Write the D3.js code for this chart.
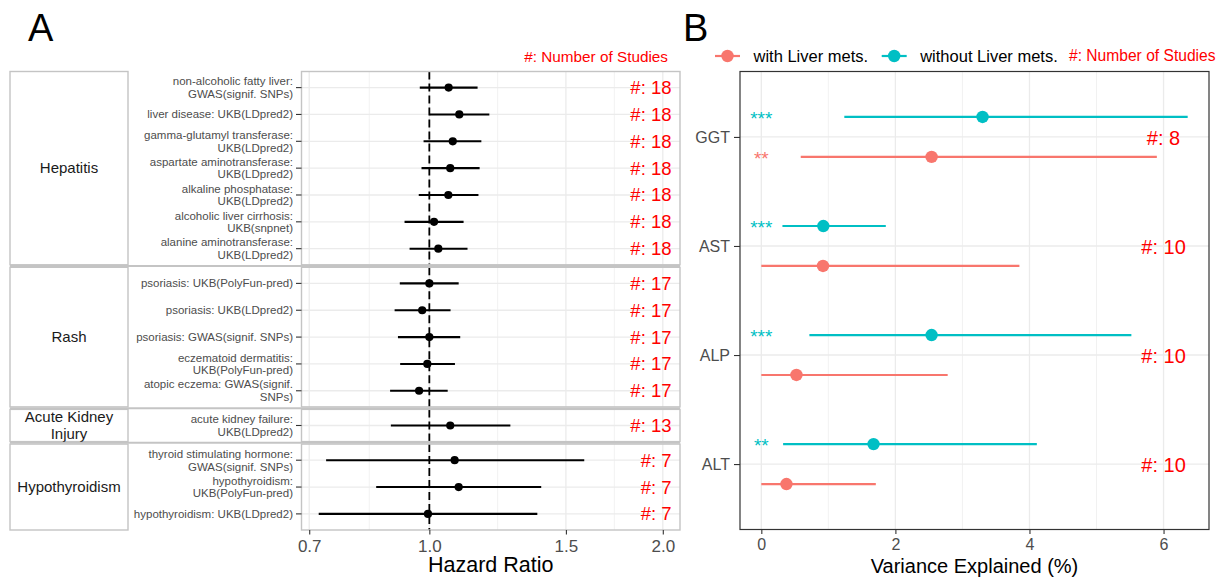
<!DOCTYPE html>
<html>
<head>
<meta charset="utf-8">
<script src="https://cdn.jsdelivr.net/npm/d3@7"></script>
<style>
  body { margin: 0; background: #fff; }
  svg { display: block; font-family: "Liberation Sans", Arial, sans-serif; }
</style>
</head>
<body>
<svg id="chart" width="1217" height="577"></svg>
<script>
// ---- Panel A data (hazard ratios) ----------------------------------
const hrGroups = ["Hepatitis", "Rash", "Acute Kidney\nInjury", "Hypothyroidism"];

const hrLabels = [
  "non-alcoholic fatty liver:\nGWAS(signif. SNPs)",
  "liver disease: UKB(LDpred2)",
  "gamma-glutamyl transferase:\nUKB(LDpred2)",
  "aspartate aminotransferase:\nUKB(LDpred2)",
  "alkaline phosphatase:\nUKB(LDpred2)",
  "alcoholic liver cirrhosis:\nUKB(snpnet)",
  "alanine aminotransferase:\nUKB(LDpred2)",
  "psoriasis: UKB(PolyFun-pred)",
  "psoriasis: UKB(LDpred2)",
  "psoriasis: GWAS(signif. SNPs)",
  "eczematoid dermatitis:\nUKB(PolyFun-pred)",
  "atopic eczema: GWAS(signif.\nSNPs)",
  "acute kidney failure:\nUKB(LDpred2)",
  "thyroid stimulating hormone:\nGWAS(signif. SNPs)",
  "hypothyroidism:\nUKB(PolyFun-pred)",
  "hypothyroidism: UKB(LDpred2)"
];
const hrGroupOf = [0, 0, 0, 0, 0, 0, 0, 1, 1, 1, 1, 1, 2, 3, 3, 3];
const hrEst  = [1.059, 1.093, 1.072, 1.064, 1.058, 1.014, 1.027, 1.000, 0.979, 1.000, 0.994, 0.970, 1.064, 1.078, 1.091, 0.996];
const hrLow  = [0.972, 1.001, 0.983, 0.977, 0.969, 0.929, 0.943, 0.916, 0.902, 0.911, 0.917, 0.890, 0.892, 0.736, 0.854, 0.720];
const hrHigh = [1.154, 1.195, 1.167, 1.161, 1.157, 1.107, 1.120, 1.091, 1.065, 1.096, 1.079, 1.056, 1.272, 1.584, 1.394, 1.378];
const hrStudies = [18, 18, 18, 18, 18, 18, 18, 17, 17, 17, 17, 17, 13, 7, 7, 7];
const hrTicks = [0.7, 1.0, 1.5, 2.0];

// ---- Panel B data (variance explained, %) --------------------------
const markers = ["GGT", "AST", "ALP", "ALT"];
const withEst  = [2.54, 0.92, 0.524, 0.375];
const withLow  = [0.588, 0, 0, 0];
const withHigh = [5.90, 3.85, 2.78, 1.708];
const withStars = ["**", "", "", ""];
const withoutEst  = [3.30, 0.925, 2.54, 1.674];
const withoutLow  = [1.238, 0.315, 0.717, 0.325];
const withoutHigh = [6.36, 1.857, 5.52, 4.11];
const withoutStars = ["***", "***", "***", "**"];
const veStudies = [8, 10, 10, 10];
const veTicks = [0, 2, 4, 6];

const SALMON = "#F8766D", CYAN = "#00BFC4", RED = "#FF0000";
const GRID = "#EBEBEB", AXIS_TXT = "#4D4D4D";

const svg = d3.select("#chart");

// ====================================================================
//  Panel A
// ====================================================================
const A = { left: 301.5, right: 680, top: 71.5, bottom: 530, gap: 2.5, stripL: 10, stripR: 128 };

// log x with 5% expansion, like ggplot
const lnMin = Math.log(d3.min(hrLow)), lnMax = Math.log(d3.max(hrTicks));
const lnPad = (lnMax - lnMin) * 0.05;
const xA = d3.scaleLog()
  .domain([Math.exp(lnMin - lnPad), Math.exp(lnMax + lnPad)])
  .range([A.left, A.right]);

const counts = hrGroups.map((g, i) => hrGroupOf.filter(k => k === i).length);
const unit = (A.bottom - A.top - A.gap * (counts.length - 1)) / d3.sum(counts, n => n + 0.2);

const gA = svg.append("g");
let yCursor = A.top;
const rowY = [];
const facets = [];

counts.forEach((n, gi) => {
  const h = (n + 0.2) * unit;
  const rows = d3.range(hrLabels.length).filter(i => hrGroupOf[i] === gi);
  const y = d3.scalePoint().domain(rows).range([yCursor, yCursor + h]).padding(0.6);
  rows.forEach(i => rowY[i] = y(i));
  facets.push({ gi, y0: yCursor, y1: yCursor + h, rows });
  yCursor += h + A.gap;
});

const minorA = d3.pairs(hrTicks).map(([a, b]) => Math.sqrt(a * b));

facets.forEach(f => {
  const g = gA.append("g");
  g.append("rect").attr("x", A.left).attr("y", f.y0)
    .attr("width", A.right - A.left).attr("height", f.y1 - f.y0).attr("fill", "#fff");
  g.selectAll(".mn").data(minorA).join("line")
    .attr("x1", d => xA(d)).attr("x2", d => xA(d))
    .attr("y1", f.y0).attr("y2", f.y1)
    .attr("stroke", GRID).attr("stroke-width", 0.7);
  g.selectAll(".mj").data(hrTicks).join("line")
    .attr("x1", d => xA(d)).attr("x2", d => xA(d))
    .attr("y1", f.y0).attr("y2", f.y1)
    .attr("stroke", GRID).attr("stroke-width", 1.3);
  g.selectAll(".hr").data(f.rows).join("line")
    .attr("x1", A.left).attr("x2", A.right)
    .attr("y1", d => rowY[d]).attr("y2", d => rowY[d])
    .attr("stroke", GRID).attr("stroke-width", 1.3);
  // reference line at HR = 1
  g.append("line")
    .attr("x1", xA(1)).attr("x2", xA(1)).attr("y1", f.y0).attr("y2", f.y1)
    .attr("stroke", "#000").attr("stroke-width", 1.8).attr("stroke-dasharray", "8,4");
  g.append("rect").attr("x", A.left).attr("y", f.y0)
    .attr("width", A.right - A.left).attr("height", f.y1 - f.y0)
    .attr("fill", "none").attr("stroke", "#C4C4C4").attr("stroke-width", 1.4);
  // strip box
  g.append("rect").attr("x", A.stripL).attr("y", f.y0)
    .attr("width", A.stripR - A.stripL).attr("height", f.y1 - f.y0)
    .attr("fill", "#fff").attr("stroke", "#C4C4C4").attr("stroke-width", 1.4);
  const lines = hrGroups[f.gi].split("\n");
  const st = g.append("text")
    .attr("x", (A.stripL + A.stripR) / 2).attr("y", (f.y0 + f.y1) / 2)
    .attr("text-anchor", "middle").attr("font-size", 15).attr("fill", "#1A1A1A");
  lines.forEach((t, k) => {
    st.append("tspan").attr("x", (A.stripL + A.stripR) / 2)
      .attr("dy", k === 0 ? `${0.35 - (lines.length - 1) * 0.55}em` : "1.1em").text(t);
  });
});

// separators running through the label area
d3.pairs(facets).forEach(([a, b]) => {
  gA.append("line").attr("x1", A.stripL).attr("x2", A.right)
    .attr("y1", (a.y1 + b.y0) / 2).attr("y2", (a.y1 + b.y0) / 2)
    .attr("stroke", "#C4C4C4").attr("stroke-width", 2);
});

// y tick marks + labels
const rowsIdx = d3.range(hrLabels.length);
gA.selectAll(".ytk").data(rowsIdx).join("line")
  .attr("x1", A.left - 5.5).attr("x2", A.left)
  .attr("y1", i => rowY[i]).attr("y2", i => rowY[i])
  .attr("stroke", "#333").attr("stroke-width", 1.1);

gA.selectAll(".ylab").data(rowsIdx).join("text")
  .attr("x", A.left - 8.5).attr("y", i => rowY[i])
  .attr("text-anchor", "end").attr("font-size", 11.5).attr("fill", AXIS_TXT)
  .each(function (i) {
    const parts = hrLabels[i].split("\n");
    const t = d3.select(this);
    parts.forEach((p, k) => {
      t.append("tspan").attr("x", A.left - 8.5)
        .attr("dy", k === 0 ? `${0.35 - (parts.length - 1) * 0.55}em` : "1.1em")
        .text(p);
    });
  });

// error bars and points
gA.selectAll(".eb").data(rowsIdx).join("line")
  .attr("x1", i => xA(hrLow[i])).attr("x2", i => xA(hrHigh[i]))
  .attr("y1", i => rowY[i]).attr("y2", i => rowY[i])
  .attr("stroke", "#000").attr("stroke-width", 2.1);
gA.selectAll(".pt").data(rowsIdx).join("circle")
  .attr("cx", i => xA(hrEst[i])).attr("cy", i => rowY[i]).attr("r", 4.1)
  .attr("fill", "#000");

// number of studies
gA.selectAll(".ns").data(rowsIdx).join("text")
  .attr("x", 671.5).attr("y", i => rowY[i]).attr("dy", "0.35em")
  .attr("text-anchor", "end").attr("font-size", 18.5).attr("fill", RED)
  .text(i => `#: ${hrStudies[i]}`);

gA.append("text").attr("x", 668).attr("y", 57).attr("dy", "0.35em")
  .attr("text-anchor", "end").attr("font-size", 15.3).attr("fill", RED)
  .text("#: Number of Studies");

// x axis
const axA = gA.append("g").attr("transform", `translate(0,${A.bottom})`)
  .call(d3.axisBottom(xA).tickValues(hrTicks).tickFormat(d3.format(".1f")).tickSize(4.5).tickPadding(5));
axA.select(".domain").remove();
axA.selectAll(".tick line").attr("stroke", "#333").attr("stroke-width", 1.1);
axA.selectAll(".tick text").attr("font-size", 17).attr("fill", AXIS_TXT)
  .attr("font-family", "Liberation Sans, Arial, sans-serif");

gA.append("text").attr("x", (A.left + A.right) / 2).attr("y", 572)
  .attr("text-anchor", "middle").attr("font-size", 21.5).attr("fill", "#000")
  .text("Hazard Ratio");

svg.append("text").attr("x", 28).attr("y", 41).attr("font-size", 38).text("A");

// ====================================================================
//  Panel B
// ====================================================================
const B = { left: 740, right: 1209, top: 71.5, bottom: 529.5 };
const veMax = d3.max(withoutHigh.concat(withHigh));
const vePad = veMax * 0.05;
const xB = d3.scaleLinear().domain([-vePad, veMax + vePad]).range([B.left, B.right]);
const yB = d3.scalePoint().domain(markers).range([B.top, B.bottom]).padding(0.6);
const dodge = yB.step() * 0.183;

const gB = svg.append("g");
gB.append("rect").attr("x", B.left).attr("y", B.top)
  .attr("width", B.right - B.left).attr("height", B.bottom - B.top).attr("fill", "#fff");

const minorB = d3.range(-1, 8).filter(v => v % 2 !== 0 && xB(v) > B.left && xB(v) < B.right);
gB.selectAll(".mn").data(minorB).join("line")
  .attr("x1", d => xB(d)).attr("x2", d => xB(d)).attr("y1", B.top).attr("y2", B.bottom)
  .attr("stroke", GRID).attr("stroke-width", 0.7);
gB.selectAll(".mj").data(veTicks).join("line")
  .attr("x1", d => xB(d)).attr("x2", d => xB(d)).attr("y1", B.top).attr("y2", B.bottom)
  .attr("stroke", GRID).attr("stroke-width", 1.3);
gB.selectAll(".hr").data(markers).join("line")
  .attr("x1", B.left).attr("x2", B.right).attr("y1", d => yB(d)).attr("y2", d => yB(d))
  .attr("stroke", GRID).attr("stroke-width", 1.3);

const series = [
  { color: CYAN, est: withoutEst, lo: withoutLow, hi: withoutHigh, stars: withoutStars, off: -dodge },
  { color: SALMON, est: withEst, lo: withLow, hi: withHigh, stars: withStars, off: dodge }
];

series.forEach(s => {
  const idx = d3.range(markers.length);
  gB.selectAll(null).data(idx).join("line")
    .attr("x1", i => xB(s.lo[i])).attr("x2", i => xB(s.hi[i]))
    .attr("y1", i => yB(markers[i]) + s.off).attr("y2", i => yB(markers[i]) + s.off)
    .attr("stroke", s.color).attr("stroke-width", 2.2);
  gB.selectAll(null).data(idx).join("circle")
    .attr("cx", i => xB(s.est[i])).attr("cy", i => yB(markers[i]) + s.off).attr("r", 6.2)
    .attr("fill", s.color);
  gB.selectAll(null).data(idx.filter(i => s.stars[i])).join("text")
    .attr("x", xB(0)).attr("y", i => yB(markers[i]) + s.off).attr("dy", "0.42em")
    .attr("text-anchor", "middle").attr("font-size", 19).attr("fill", s.color)
    .text(i => s.stars[i]);
});

gB.selectAll(".ns").data(markers).join("text")
  .attr("x", xB(6)).attr("y", d => yB(d)).attr("dy", "0.38em")
  .attr("text-anchor", "middle").attr("font-size", 20).attr("fill", RED)
  .text((d, i) => `#: ${veStudies[i]}`);

gB.append("rect").attr("x", B.left).attr("y", B.top)
  .attr("width", B.right - B.left).attr("height", B.bottom - B.top)
  .attr("fill", "none").attr("stroke", "#333").attr("stroke-width", 1.2);

const axBx = gB.append("g").attr("transform", `translate(0,${B.bottom})`)
  .call(d3.axisBottom(xB).tickValues(veTicks).tickFormat(d3.format("d")).tickSize(4.5).tickPadding(5));
axBx.select(".domain").remove();
axBx.selectAll(".tick line").attr("stroke", "#333").attr("stroke-width", 1.1);
axBx.selectAll(".tick text").attr("font-size", 16).attr("fill", AXIS_TXT)
  .attr("font-family", "Liberation Sans, Arial, sans-serif");

const axBy = gB.append("g").attr("transform", `translate(${B.left},0)`)
  .call(d3.axisLeft(yB).tickSize(6).tickPadding(4));
axBy.select(".domain").remove();
axBy.selectAll(".tick line").attr("stroke", "#333").attr("stroke-width", 1.1);
axBy.selectAll(".tick text").attr("font-size", 16).attr("fill", AXIS_TXT)
  .attr("font-family", "Liberation Sans, Arial, sans-serif");

gB.append("text").attr("x", (B.left + B.right) / 2).attr("y", 573)
  .attr("text-anchor", "middle").attr("font-size", 20).attr("fill", "#000")
  .text("Variance Explained (%)");

// legend
const legendY = 56;
const legend = [
  { label: "with Liver mets.", color: SALMON, x: 715 },
  { label: "without Liver mets.", color: CYAN, x: 881.7 }
];
legend.forEach(l => {
  gB.append("line").attr("x1", l.x).attr("x2", l.x + 25).attr("y1", legendY).attr("y2", legendY)
    .attr("stroke", l.color).attr("stroke-width", 2.2);
  gB.append("circle").attr("cx", l.x + 12.5).attr("cy", legendY).attr("r", 6.2).attr("fill", l.color);
  gB.append("text").attr("x", l.x + 38.5).attr("y", legendY).attr("dy", "0.35em")
    .attr("font-size", 16.5).attr("fill", "#000").text(l.label);
});
gB.append("text").attr("x", 1215.5).attr("y", legendY).attr("dy", "0.35em")
  .attr("text-anchor", "end").attr("font-size", 15.6).attr("fill", RED)
  .text("#: Number of Studies");

svg.append("text").attr("x", 683).attr("y", 41).attr("font-size", 38).text("B");
</script>
</body>
</html>
